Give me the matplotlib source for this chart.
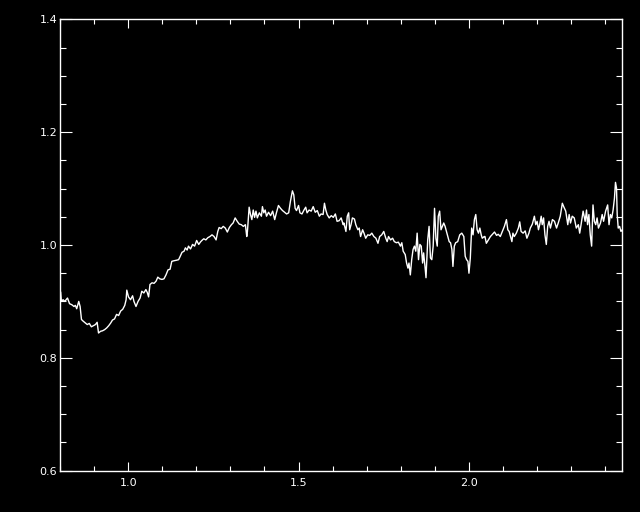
import numpy as np
import matplotlib
matplotlib.use('Agg')
import matplotlib.pyplot as plt
from matplotlib.ticker import MultipleLocator

## Spectrum (wavelength, relative flux)
wave = [0.802, 0.804, 0.809, 0.814, 0.822, 0.828, 0.835, 0.841, 0.845, 0.849,
        0.855, 0.859, 0.863, 0.868, 0.874, 0.880, 0.886, 0.892, 0.898, 0.904,
        0.909, 0.913, 0.919, 0.925, 0.931, 0.937, 0.943, 0.949, 0.954, 0.960,
        0.966, 0.972, 0.978, 0.984, 0.990, 0.994, 0.996, 1.001, 1.007, 1.013,
        1.017, 1.023, 1.029, 1.035, 1.040, 1.046, 1.052, 1.056, 1.060, 1.064,
        1.070, 1.076, 1.082, 1.087, 1.093, 1.099, 1.105, 1.111, 1.117, 1.123,
        1.128, 1.134, 1.142, 1.148, 1.152, 1.158, 1.164, 1.168, 1.173, 1.177,
        1.183, 1.189, 1.195, 1.201, 1.207, 1.213, 1.218,
        1.222, 1.228, 1.234, 1.240, 1.246, 1.252, 1.258, 1.263, 1.267, 1.273,
        1.279, 1.285, 1.291, 1.297, 1.303, 1.308, 1.314, 1.320, 1.326, 1.332,
        1.338, 1.344, 1.348, 1.350, 1.355, 1.359, 1.363, 1.367, 1.371, 1.375,
        1.379, 1.385, 1.391, 1.394, 1.398, 1.402, 1.406, 1.412, 1.418, 1.424,
        1.430, 1.435, 1.441, 1.447, 1.453, 1.459, 1.465, 1.471, 1.476, 1.482,
        1.486, 1.490, 1.494, 1.500, 1.504, 1.510, 1.516, 1.521, 1.525, 1.531,
        1.537, 1.543, 1.549, 1.555, 1.561, 1.566, 1.572, 1.576, 1.580, 1.584,
        1.590, 1.596, 1.602, 1.608, 1.613, 1.619, 1.625, 1.631,
        1.633, 1.639, 1.643, 1.647, 1.650, 1.654, 1.658, 1.664, 1.668, 1.674,
        1.678, 1.682, 1.688, 1.692, 1.697, 1.703, 1.709, 1.715, 1.721, 1.727,
        1.733, 1.738, 1.744, 1.750, 1.756, 1.760, 1.764, 1.770, 1.776, 1.781,
        1.787, 1.793, 1.799, 1.803, 1.807, 1.813, 1.817, 1.821, 1.824, 1.828,
        1.832, 1.836, 1.840, 1.844, 1.848, 1.852, 1.856, 1.860, 1.864, 1.867,
        1.871, 1.874, 1.879, 1.883, 1.887, 1.891, 1.895, 1.899, 1.903, 1.907,
        1.910, 1.914, 1.918, 1.922, 1.926, 1.930, 1.934, 1.938, 1.942, 1.946,
        1.950, 1.953, 1.957, 1.961, 1.967, 1.973, 1.979, 1.985, 1.989, 1.993,
        1.997, 2.000, 2.004, 2.008, 2.012, 2.016, 2.020, 2.024, 2.028, 2.032,
        2.036, 2.039, 2.045,
        2.047, 2.051, 2.057, 2.063, 2.069, 2.075, 2.081, 2.086, 2.092, 2.098,
        2.104, 2.110, 2.114, 2.118, 2.122, 2.126, 2.129, 2.133, 2.139, 2.145,
        2.149, 2.153, 2.159, 2.165, 2.170, 2.176, 2.180, 2.186, 2.192, 2.196,
        2.200, 2.204, 2.208, 2.212, 2.215, 2.219, 2.223, 2.227, 2.231, 2.235,
        2.239, 2.245, 2.251, 2.257, 2.262, 2.268, 2.274, 2.278, 2.284, 2.290,
        2.294, 2.298, 2.303, 2.309, 2.315, 2.321, 2.325, 2.329, 2.335, 2.341,
        2.345, 2.348, 2.352, 2.356, 2.360, 2.364, 2.368, 2.372, 2.376, 2.380,
        2.386, 2.391, 2.395, 2.401, 2.407, 2.411, 2.415, 2.419, 2.423, 2.427,
        2.430, 2.433, 2.435, 2.438, 2.442, 2.446, 2.450]

flux = [0.916, 0.900, 0.903, 0.900, 0.906, 0.896, 0.894, 0.891, 0.893, 0.887,
        0.900, 0.891, 0.868, 0.865, 0.862, 0.859, 0.861, 0.855, 0.857, 0.859,
        0.863, 0.844, 0.847, 0.848, 0.850, 0.853, 0.857, 0.862, 0.867, 0.869,
        0.877, 0.875, 0.883, 0.886, 0.893, 0.903, 0.920, 0.908, 0.903, 0.910,
        0.900, 0.891, 0.900, 0.906, 0.918, 0.915, 0.921, 0.916, 0.908, 0.930,
        0.933, 0.932, 0.936, 0.943, 0.940, 0.939, 0.940, 0.947, 0.956, 0.957,
        0.971, 0.972, 0.973, 0.974, 0.979, 0.987, 0.989, 0.995, 0.991, 0.998,
        0.993, 1.001, 0.998, 1.008, 1.001, 1.006, 1.009,
        1.011, 1.009, 1.013, 1.015, 1.018, 1.015, 1.009, 1.024, 1.031, 1.029,
        1.033, 1.030, 1.023, 1.031, 1.036, 1.039, 1.048, 1.042, 1.037, 1.036,
        1.033, 1.036, 1.015, 1.024, 1.067, 1.054, 1.045, 1.062, 1.049, 1.060,
        1.048, 1.057, 1.051, 1.068, 1.057, 1.062, 1.051, 1.058, 1.052, 1.060,
        1.045, 1.057, 1.070, 1.065, 1.061, 1.058, 1.055, 1.057, 1.077, 1.096,
        1.089, 1.065, 1.061, 1.070, 1.057, 1.055, 1.062, 1.067, 1.057, 1.062,
        1.060, 1.068, 1.058, 1.061, 1.051, 1.055, 1.054, 1.074, 1.062, 1.054,
        1.048, 1.052, 1.049, 1.055, 1.042, 1.043, 1.048, 1.036,
        1.039, 1.024, 1.051, 1.057, 1.027, 1.036, 1.048, 1.046, 1.036, 1.027,
        1.030, 1.015, 1.027, 1.021, 1.012, 1.018, 1.017, 1.021, 1.015, 1.012,
        1.003, 1.015, 1.018, 1.024, 1.012, 1.006, 1.015, 1.009, 1.012, 1.006,
        1.004, 1.005, 0.998, 1.004, 0.989, 0.983, 0.968, 0.959, 0.968, 0.947,
        0.974, 0.992, 0.998, 0.989, 1.021, 0.974, 1.001, 0.998, 0.968, 0.986,
        0.962, 0.942, 1.009, 1.033, 0.977, 0.974, 0.998, 1.065, 1.012, 0.998,
        1.051, 1.060, 1.027, 1.033, 1.039, 1.033, 1.024, 1.015, 1.006, 1.004,
        0.992, 0.962, 0.998, 1.004, 1.006, 1.018, 1.021, 1.015, 0.980, 0.974,
        0.971, 0.950, 0.977, 1.030, 1.018, 1.045, 1.054, 1.027, 1.021, 1.030,
        1.018, 1.012, 1.015,
        1.015, 1.003, 1.009, 1.015, 1.019, 1.023, 1.017, 1.019, 1.015, 1.024,
        1.033, 1.045, 1.027, 1.024, 1.015, 1.006, 1.021, 1.015, 1.021, 1.030,
        1.041, 1.024, 1.021, 1.025, 1.012, 1.021, 1.030, 1.037, 1.051, 1.036,
        1.042, 1.027, 1.037, 1.051, 1.036, 1.048, 1.018, 1.001, 1.033, 1.042,
        1.030, 1.045, 1.042, 1.030, 1.039, 1.051, 1.074, 1.068, 1.060, 1.036,
        1.054, 1.039, 1.051, 1.048, 1.030, 1.036, 1.021, 1.036, 1.060, 1.042,
        1.062, 1.036, 1.054, 1.018, 0.998, 1.071, 1.042, 1.036, 1.048, 1.030,
        1.039, 1.054, 1.042, 1.060, 1.071, 1.036, 1.054, 1.048, 1.062, 1.083,
        1.111, 1.101, 1.054, 1.030, 1.033, 1.024, 1.027]

fig = plt.figure(figsize=(6.4, 5.12), dpi=100, facecolor='black')
ax = fig.add_axes([0.09375, 0.0807, 0.8786, 0.8816], facecolor='black')

ax.plot(wave, flux, color='white', lw=1.0)

ax.set_xlim(0.8, 2.45)
ax.set_ylim(0.6, 1.4)
ax.xaxis.set_major_locator(MultipleLocator(0.5))
ax.xaxis.set_minor_locator(MultipleLocator(0.1))
ax.yaxis.set_major_locator(MultipleLocator(0.2))
ax.yaxis.set_minor_locator(MultipleLocator(0.05))
ax.xaxis.set_major_formatter(matplotlib.ticker.FormatStrFormatter('%.1f'))
ax.yaxis.set_major_formatter(matplotlib.ticker.FormatStrFormatter('%.1f'))

for s in ax.spines.values():
    s.set_color('white')
    s.set_linewidth(1.0)

ax.tick_params(which='both', direction='in', colors='white', top=True, right=True,
               width=0.8, labelsize=8)
ax.tick_params(axis='x', which='major', length=6.5, pad=5)
ax.tick_params(axis='x', which='minor', length=3.6)
ax.tick_params(axis='y', which='major', length=8.6, pad=2)
ax.tick_params(axis='y', which='minor', length=4.3)

fig.savefig('out.png', dpi=100, facecolor='black')
